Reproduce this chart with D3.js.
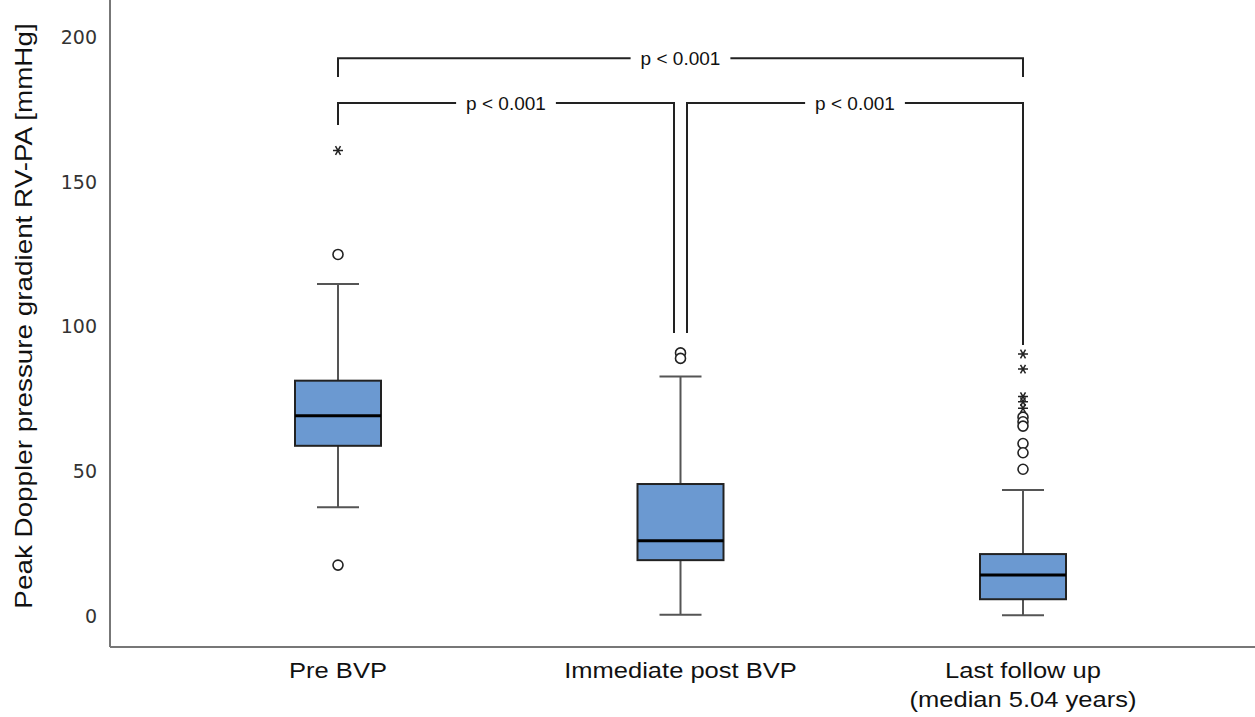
<!DOCTYPE html>
<html>
<head>
<meta charset="utf-8">
<script src="https://cdn.jsdelivr.net/npm/d3@7"></script>
<style>
  body { margin: 0; background: #fff; }
  svg { display: block; }
</style>
</head>
<body>
<div class="chart"></div>
<script>
const categories = ["Pre BVP", "Immediate post BVP", "Last follow up"];
const categoryLabels = [["Pre BVP"], ["Immediate post BVP"], ["Last follow up", "(median 5.04 years)"]];

// box stats: [lowWhisker, q1, median, q3, highWhisker]
const boxStats = [
  [37.6, 58.8, 69.2, 81.3, 114.7],
  [0.4, 19.3, 26.0, 45.6, 82.7],
  [0.3, 5.8, 14.2, 21.4, 43.5]
];
const outliers = [
  [124.9, 17.6],
  [90.9, 89.0],
  [68.7, 67.1, 65.6, 59.6, 56.4, 50.7]
];
const extremes = [
  [160.8],
  [],
  [90.5, 85.3, 75.8, 74.0, 71.8]
];
const yTicks = [0, 50, 100, 150, 200];

// brackets: [from, to, level, leg end at from, leg end at to]
const brackets = [
  [0, 2, 192.7, 186.2, 186.2],
  [0, 1, 177.2, 169.6, 97.8],
  [1, 2, 177.2, 97.8, 93.6]
];
const pLabel = "p < 0.001";

const width = 1255, height = 717;
const fill = "#6b99d1";
const stretch = 1.16; // the original's sans text runs a bit wide

const svg = d3.select(".chart").append("svg")
  .attr("width", width).attr("height", height);

const x = d3.scalePoint().domain(d3.range(categories.length)).range([338, 1023]);
const y = d3.scaleLinear().domain([-10.7, 212.8]).range([647, 0]);

// axes
svg.append("line")
  .attr("x1", 110).attr("x2", 110).attr("y1", 0).attr("y2", y(-10.7))
  .attr("stroke", "#777").attr("stroke-width", 2);
svg.append("line")
  .attr("x1", 110).attr("x2", width).attr("y1", y(-10.7)).attr("y2", y(-10.7))
  .attr("stroke", "#777").attr("stroke-width", 2);

svg.append("g")
    .attr("font-family", "DejaVu Sans, Verdana, sans-serif")
    .attr("font-size", 19)
    .attr("fill", "#333")
  .selectAll("text")
  .data(yTicks)
  .join("text")
    .attr("x", 97)
    .attr("y", d => y(d))
    .attr("dy", "0.36em")
    .attr("text-anchor", "end")
    .text(d => d);

svg.append("text")
  .attr("transform", `translate(32, 316) rotate(-90) scale(${stretch},1)`)
  .attr("text-anchor", "middle")
  .attr("font-family", "Liberation Sans, Arial, sans-serif")
  .attr("font-size", 24)
  .attr("fill", "#111")
  .text("Peak Doppler pressure gradient RV-PA [mmHg]");

svg.append("g")
    .attr("font-family", "Liberation Sans, Arial, sans-serif")
    .attr("font-size", 22)
    .attr("fill", "#111")
  .selectAll("g")
  .data(categoryLabels)
  .join("g")
    .attr("transform", (d, i) => `translate(${x(i)}, 678) scale(${stretch},1)`)
  .selectAll("text")
  .data(d => d)
  .join("text")
    .attr("y", (d, i) => i * 29)
    .attr("text-anchor", "middle")
    .text(d => d);

// boxes
const boxW = 86, capW = 42;
const g = svg.append("g").selectAll("g")
  .data(boxStats)
  .join("g");

g.append("line")
  .attr("x1", (d, i) => x(i)).attr("x2", (d, i) => x(i))
  .attr("y1", d => y(d[0])).attr("y2", d => y(d[4]))
  .attr("stroke", "#555").attr("stroke-width", 2);
g.selectAll(".cap")
  .data((d, i) => [[i, d[0]], [i, d[4]]])
  .join("line")
    .attr("class", "cap")
    .attr("x1", d => x(d[0]) - capW / 2).attr("x2", d => x(d[0]) + capW / 2)
    .attr("y1", d => y(d[1])).attr("y2", d => y(d[1]))
    .attr("stroke", "#555").attr("stroke-width", 2);
g.append("rect")
  .attr("x", (d, i) => x(i) - boxW / 2)
  .attr("width", boxW)
  .attr("y", d => y(d[3]))
  .attr("height", d => y(d[1]) - y(d[3]))
  .attr("fill", fill)
  .attr("stroke", "#222").attr("stroke-width", 2);
g.append("line")
  .attr("x1", (d, i) => x(i) - boxW / 2).attr("x2", (d, i) => x(i) + boxW / 2)
  .attr("y1", d => y(d[2])).attr("y2", d => y(d[2]))
  .attr("stroke", "#000").attr("stroke-width", 3);

// outliers
svg.append("g").selectAll("circle")
  .data(outliers.flatMap((arr, i) => arr.map(v => [i, v])))
  .join("circle")
    .attr("cx", d => x(d[0]))
    .attr("cy", d => y(d[1]))
    .attr("r", 5)
    .attr("fill", "#fff")
    .attr("stroke", "#222")
    .attr("stroke-width", 1.6);

const star = d3.symbol().type(d3.symbolAsterisk || d3.symbolCross).size(70);
svg.append("g").selectAll("path")
  .data(extremes.flatMap((arr, i) => arr.map(v => [i, v])))
  .join("path")
    .attr("transform", d => `translate(${x(d[0])},${y(d[1])}) rotate(90)`)
    .attr("d", star)
    .attr("fill", "none")
    .attr("stroke", "#222")
    .attr("stroke-width", 1.5);

// significance brackets
const off = 6.5;
const bg = svg.append("g");
brackets.forEach(([a, b, lvl, ea, eb], k) => {
  // the two lower brackets meet at the middle category, keep their legs apart
  const x1 = x(a) + (k > 0 && a === 1 ? off : 0);
  const x2 = x(b) - (k > 0 && b === 1 ? off : 0);
  bg.append("path")
    .attr("d", `M${x1},${y(ea)}V${y(lvl)}H${x2}V${y(eb)}`)
    .attr("fill", "none")
    .attr("stroke", "#222")
    .attr("stroke-width", 2);
});
brackets.forEach(([a, b, lvl], k) => {
  const x1 = x(a) + (k > 0 && a === 1 ? off : 0);
  const x2 = x(b) - (k > 0 && b === 1 ? off : 0);
  const t = bg.append("text")
    .attr("x", (x1 + x2) / 2)
    .attr("y", y(lvl))
    .attr("dy", "0.35em")
    .attr("text-anchor", "middle")
    .attr("font-family", "Liberation Sans, Arial, sans-serif")
    .attr("font-size", 19)
    .attr("fill", "#111")
    .text(pLabel);
  const bb = t.node().getBBox();
  bg.insert("rect", () => t.node())
    .attr("x", bb.x - 10).attr("width", bb.width + 20)
    .attr("y", y(lvl) - 4).attr("height", 8)
    .attr("fill", "#fff");
});
</script>
</body>
</html>
